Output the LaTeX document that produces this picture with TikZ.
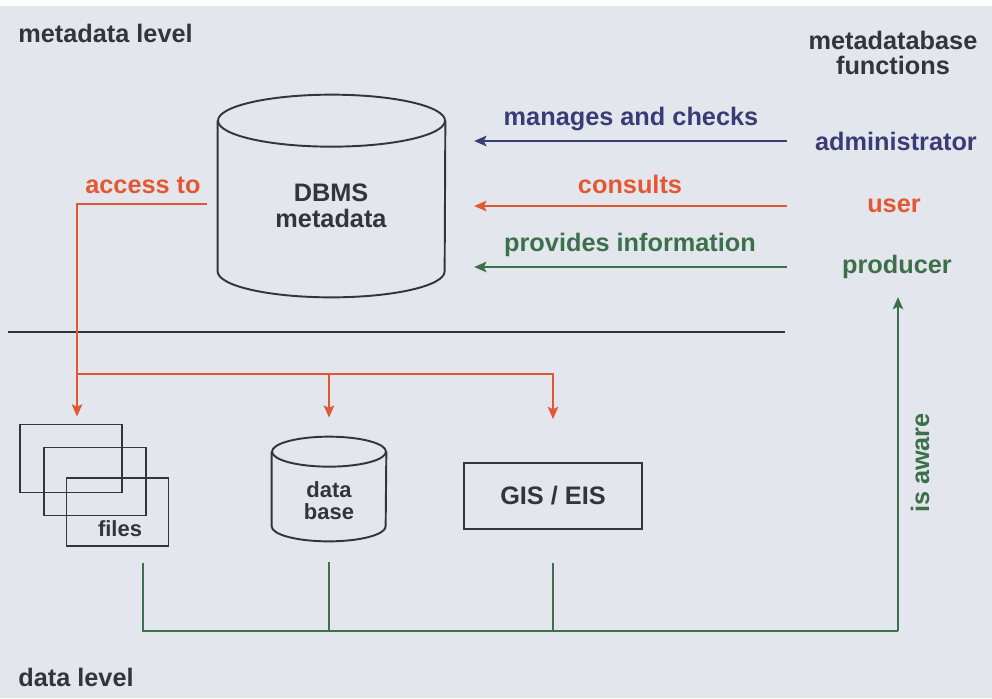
\documentclass[tikz,border=0pt]{standalone}
\usepackage{fontspec}
\setmainfont{Liberation Sans}
\usetikzlibrary{arrows.meta,calc}

\definecolor{bgcol}{RGB}{228,230,238}
\definecolor{inkcol}{RGB}{52,53,60}
\definecolor{navycol}{RGB}{58,60,118}
\definecolor{orangecol}{RGB}{226,88,50}
\definecolor{greencol}{RGB}{60,112,74}

% cylinder outline round a node: node, x radius, y radius
\newcommand{\drawcan}[3]{%
	\draw[canline] ($(#1.north)+(0,#3)$) ellipse ({#2} and {#3});
	\draw[canline] ($(#1.north west)+(0,#3)$) -- ($(#1.south west)+(0,-#3)$)
		arc[start angle=180, end angle=0, x radius=#2, y radius=#3]
		-- ($(#1.north east)+(0,#3)$);
}

\begin{document}
\begin{tikzpicture}[
	x=0.02cm, y=-0.02cm,
	every node/.style={font=\fontsize{14.4}{14.6}\selectfont\bfseries, align=center, inner sep=0pt, text=inkcol},
	smallfont/.style={font=\fontsize{12.5}{12.6}\selectfont\bfseries},
	canline/.style={draw=inkcol, line width=1.1pt},
	filebox/.style={draw=inkcol, line width=1.1pt, minimum width=102*0.02cm, minimum height=68*0.02cm},
	navyarrow/.style={draw=navycol, line width=1pt, -{Stealth[length=7pt, width=6pt, inset=1.5pt]}},
	orangearrow/.style={draw=orangecol, line width=1.1pt, -{Stealth[length=7pt, width=6pt, inset=1.5pt]}},
	greenarrow/.style={draw=greencol, line width=1pt, -{Stealth[length=7pt, width=6pt, inset=1.5pt]}},
	greenline/.style={draw=greencol, line width=1pt},
]
\useasboundingbox (0,0) rectangle (992,698);
\fill[bgcol] (0,0) rectangle (992,698);
\fill[white] (0,0) rectangle (992,6);

\node[anchor=west] (mdlevel) at (18,33) {metadata level};
\node[anchor=west] (dlevel) at (18,677) {data level};
\node (mdbfunc) at (893,53) {metadatabase\\functions};

\node[minimum width=227*0.02cm, minimum height=202*0.02cm] (db) at (331.5,196) {};
\drawcan{db}{113.5}{26}
\node at (331,206) {DBMS\\metadata};

\node[text=navycol] (admin) at (896,141) {administrator};
\node[text=orangecol] (user) at (894,206) {user};
\node[text=greencol] (prod) at (897,267) {producer};

\coordinate (rstart) at (787,0);
\draw[navyarrow, shorten >=16.4pt] (rstart |- admin.west) -- (db.east |- admin.west);
\draw[orangearrow, shorten >=16.4pt] (rstart |- user.west) -- (db.east |- user.west);
\draw[greenarrow, shorten >=16.4pt] (rstart |- prod.west) -- (db.east |- prod.west);
\node[text=navycol] (manages) at (631,119) {manages and checks};
\node[text=orangecol] (consults) at (630,184) {consults};
\node[text=greencol] (provides) at (630,245) {provides information};

\draw[draw=inkcol, line width=1.1pt] (8,332) -- (785,332);

\node[filebox] (f1) at (71,458.5) {};
\node[filebox] (f2) at (95,481.5) {};
\node[filebox] (f3) at (117.5,512) {};
\node[smallfont] (files) at (120,529) {files};

\node[minimum width=114*0.02cm, minimum height=104*0.02cm] (sdb) at (329,489) {};
\drawcan{sdb}{57}{15}
\node[smallfont] at (329,501) {data\\base};

\node[filebox, minimum width=178*0.02cm, minimum height=66*0.02cm] (gis) at (553,496) {GIS / EIS};

\node[text=orangecol] (access) at (143,185) {access to};
\coordinate (split) at (77,374);
\draw[orangearrow] ($(db.west)+(-11,8)$) -| ($(f1.north)+(6,-7)$);
\draw[orangearrow] (split) -| ($(sdb.north)+(0,-19)$);
\draw[orangearrow] (split) -| ($(gis.north)+(0,-43)$);

\coordinate (bus) at (898,631);
\draw[greenline] ($(f3.south)+(25.5,16)$) |- (bus);
\draw[greenline] ($(sdb.south)+(0,21)$) -- (sdb.south |- bus);
\draw[greenline] ($(gis.south)+(0,33)$) -- (gis.south |- bus);
\draw[greenarrow] (bus) -- (bus |- 0,297);
\node[text=greencol, rotate=90] (aware) at (920,463) {is aware};
\end{tikzpicture}
\end{document}
